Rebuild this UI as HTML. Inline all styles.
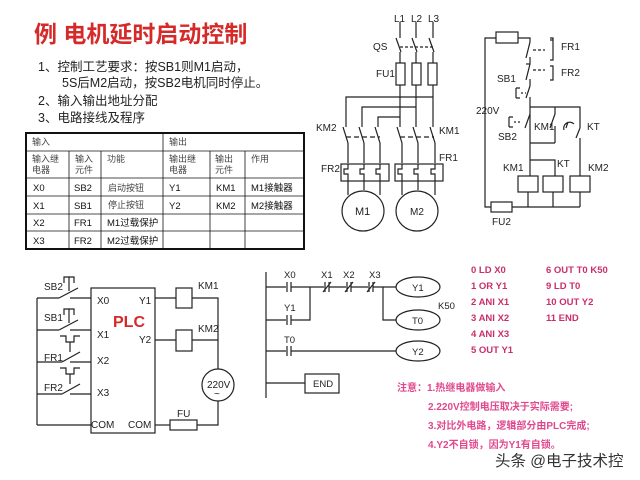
<!DOCTYPE html>
<html><head><meta charset="utf-8"><style>
body{margin:0;background:#fff}
svg{display:block}
text{font-family:"Liberation Sans","Noto Sans CJK SC",sans-serif}
</style></head><body>
<svg width="640" height="480" viewBox="0 0 640 480" xmlns="http://www.w3.org/2000/svg">
<rect width="640" height="480" fill="#fff"/>
<text x="34" y="42" font-size="23" font-weight="bold" fill="#d42a2a">例  电机延时启动控制</text>
<g font-size="12.5" fill="#222">
<text x="38" y="71">1、控制工艺要求：按SB1则M1启动，</text>
<text x="62" y="87">5S后M2启动，按SB2电机同时停止。</text>
<text x="38" y="105">2、输入输出地址分配</text>
<text x="38" y="122">3、电路接线及程序</text>
</g>
<g stroke="#111" fill="none">
<rect x="26" y="133" width="278" height="116" stroke-width="2"/>
<g stroke-width="0.8">
<line x1="26" y1="151" x2="304" y2="151"/><line x1="26" y1="178" x2="304" y2="178"/>
<line x1="26" y1="196" x2="304" y2="196"/><line x1="26" y1="214" x2="304" y2="214"/>
<line x1="26" y1="231" x2="304" y2="231"/>
<line x1="163" y1="133" x2="163" y2="249"/>
<line x1="69" y1="151" x2="69" y2="249"/><line x1="101" y1="151" x2="101" y2="249"/>
<line x1="210" y1="151" x2="210" y2="249"/><line x1="245" y1="151" x2="245" y2="249"/>
</g></g>
<g font-size="9" fill="#444">
<text x="32" y="145">输入</text><text x="169" y="145">输出</text>
<text x="32" y="162">输入继</text><text x="32" y="173">电器</text>
<text x="75" y="162">输入</text><text x="75" y="173">元件</text>
<text x="107" y="162">功能</text>
<text x="169" y="162">输出继</text><text x="169" y="173">电器</text>
<text x="215" y="162">输出</text><text x="215" y="173">元件</text>
<text x="251" y="162">作用</text>
<text x="108" y="191">启动按钮</text><text x="108" y="208">停止按钮</text>
</g>
<g font-size="9.5" fill="#111">
<text x="33" y="191">X0</text><text x="74" y="191">SB2</text><text x="169" y="191">Y1</text><text x="216" y="191">KM1</text><text x="251" y="191">M1接触器</text>
<text x="33" y="209">X1</text><text x="74" y="209">SB1</text><text x="169" y="209">Y2</text><text x="216" y="209">KM2</text><text x="251" y="209">M2接触器</text>
<text x="33" y="226">X2</text><text x="74" y="226">FR1</text><text x="107" y="226">M1过载保护</text>
<text x="33" y="244">X3</text><text x="74" y="244">FR2</text><text x="107" y="244">M2过载保护</text>
</g>
<g stroke="#222" stroke-width="1.2" fill="none">
<line x1="400" y1="22" x2="400" y2="38"/><line x1="416" y1="22" x2="416" y2="38"/><line x1="433" y1="22" x2="433" y2="38"/>
<line x1="396" y1="38" x2="401" y2="52"/><line x1="412" y1="38" x2="417" y2="52"/><line x1="429" y1="38" x2="434" y2="52"/>
<line x1="400" y1="47" x2="434" y2="47" stroke-dasharray="3,2"/>
<line x1="400" y1="52" x2="400" y2="127"/><line x1="416" y1="52" x2="416" y2="127"/><line x1="433" y1="52" x2="433" y2="127"/>
<rect x="396" y="63" width="9" height="22" fill="#fff"/><rect x="412" y="63" width="9" height="22" fill="#fff"/><rect x="428" y="63" width="9" height="22" fill="#fff"/>
<polyline points="346,127 346,97 433,97"/><polyline points="362,127 362,107 416,107"/><polyline points="378,127 378,117 400,117"/>
<line x1="343" y1="127" x2="348" y2="143"/><line x1="359" y1="127" x2="364" y2="143"/><line x1="375" y1="127" x2="380" y2="143"/>
<line x1="397" y1="127" x2="402" y2="143"/><line x1="413" y1="127" x2="418" y2="143"/><line x1="430" y1="127" x2="435" y2="143"/>
<line x1="346" y1="137" x2="380" y2="137" stroke-dasharray="5,3"/><line x1="400" y1="137" x2="434" y2="137" stroke-dasharray="5,3"/>
<line x1="348" y1="143" x2="348" y2="163"/><line x1="364" y1="143" x2="364" y2="163"/><line x1="380" y1="143" x2="380" y2="163"/>
<line x1="402" y1="143" x2="402" y2="163"/><line x1="418" y1="143" x2="418" y2="163"/><line x1="435" y1="143" x2="435" y2="163"/>
<rect x="341" y="164" width="48" height="17"/><rect x="395" y="164" width="48" height="17"/>
<path d="M348 164v5h-4v5h4v7M364 164v5h-4v5h4v7M380 164v5h-4v5h4v7M402 164v5h-4v5h4v7M418 164v5h-4v5h4v7M435 164v5h-4v5h4v7"/>
<line x1="348" y1="181" x2="348" y2="195"/><line x1="364" y1="181" x2="364" y2="190"/><line x1="380" y1="181" x2="380" y2="195"/>
<line x1="402" y1="181" x2="402" y2="195"/><line x1="418" y1="181" x2="418" y2="190"/><line x1="435" y1="181" x2="435" y2="195"/>
<ellipse cx="363" cy="211" rx="21" ry="20" fill="#fff"/><ellipse cx="417" cy="211" rx="21" ry="20" fill="#fff"/>
</g>
<g font-size="10" fill="#222">
<text x="394" y="22">L1</text><text x="411" y="22">L2</text><text x="428" y="22">L3</text>
<text x="373" y="50">QS</text><text x="376" y="77">FU1</text>
<text x="316" y="131">KM2</text><text x="439" y="134">KM1</text>
<text x="321" y="172">FR2</text><text x="439" y="161">FR1</text>
<text x="355" y="215" font-size="11">M1</text><text x="410" y="215">M2</text>
</g>
<g stroke="#222" stroke-width="1.2" fill="none">
<polyline points="496,38 485,38 485,207 518,207"/>
<rect x="496" y="32" width="22" height="11" fill="#fff"/>
<polyline points="518,38 530,38 530,42"/>
<line x1="530" y1="42" x2="526" y2="58"/><line x1="530" y1="57" x2="530" y2="64"/>
<line x1="526" y1="64" x2="530" y2="64"/><line x1="530" y1="64" x2="526" y2="80"/><line x1="530" y1="79" x2="530" y2="86"/>
<line x1="533" y1="50" x2="545" y2="50" stroke-dasharray="3,2"/><path d="M553 40v-2h-3v0M550 40h3v20h-3"/>
<line x1="533" y1="70" x2="545" y2="70" stroke-dasharray="3,2"/><path d="M550 66h3v14h-3"/>
<line x1="530" y1="86" x2="526" y2="98"/><path d="M516 88v10M516 88h4M516 98h4"/><line x1="521" y1="93" x2="526" y2="93" stroke-dasharray="2,2"/>
<line x1="530" y1="97" x2="530" y2="176"/>
<polyline points="530,107 580,107 580,128"/>
<line x1="555" y1="107" x2="555" y2="114"/><line x1="555" y1="114" x2="550" y2="128"/><line x1="555" y1="126" x2="555" y2="143"/>
<line x1="530" y1="114" x2="525" y2="128"/><path d="M509 117v10M509 117h4M509 127h4"/><line x1="514" y1="122" x2="522" y2="122" stroke-dasharray="2,2"/>
<line x1="530" y1="143" x2="555" y2="143"/>
<line x1="580" y1="128" x2="576" y2="138"/><line x1="580" y1="138" x2="580" y2="176"/>
<path d="M564 130a6 6 0 0 1 10 -6M566 128l2 -6"/>
<polyline points="530,160 555,160 555,176"/>
<rect x="518" y="176" width="20" height="16" fill="#fff"/><rect x="543" y="176" width="20" height="16" fill="#fff"/><rect x="570" y="176" width="20" height="16" fill="#fff"/>
<line x1="528" y1="192" x2="528" y2="207"/><line x1="553" y1="192" x2="553" y2="207"/><line x1="580" y1="192" x2="580" y2="207"/>
<line x1="518" y1="207" x2="580" y2="207"/>
<rect x="491" y="202" width="21" height="10" fill="#fff"/>
</g>
<g font-size="10" fill="#222">
<text x="561" y="50">FR1</text><text x="561" y="76">FR2</text><text x="497" y="82">SB1</text>
<text x="476" y="114">220V</text><text x="534" y="130">KM1</text><text x="587" y="130">KT</text><text x="498" y="140">SB2</text>
<text x="503" y="171">KM1</text><text x="557" y="167">KT</text><text x="588" y="171">KM2</text><text x="492" y="225">FU2</text>
</g>
<g stroke="#222" stroke-width="1.2" fill="none">
<rect x="91" y="288" width="64" height="145"/>
<line x1="37" y1="298" x2="37" y2="425"/>
<line x1="37" y1="298" x2="59" y2="298"/><line x1="59" y1="298" x2="78" y2="288"/><line x1="70" y1="298" x2="91" y2="298"/>
<path d="M64 283v-6h10v6M69 277v14" /> 
<line x1="37" y1="330" x2="59" y2="330"/><line x1="59" y1="330" x2="78" y2="320"/><line x1="70" y1="330" x2="91" y2="330"/>
<path d="M64 315v-6h10v6M69 309v14"/>
<line x1="37" y1="362" x2="62" y2="362"/><line x1="62" y1="362" x2="80" y2="352"/><line x1="70" y1="362" x2="91" y2="362"/>
<path d="M60 336h6v6h8v-6h6M70 342v10"/>
<line x1="37" y1="394" x2="62" y2="394"/><line x1="62" y1="394" x2="80" y2="384"/><line x1="70" y1="394" x2="91" y2="394"/>
<path d="M60 368h6v6h8v-6h6M70 374v10"/>
<line x1="37" y1="425" x2="91" y2="425"/>
<line x1="155" y1="298" x2="176" y2="298"/><rect x="176" y="288" width="16" height="20"/><polyline points="192,298 218,298 218,369"/>
<line x1="155" y1="340" x2="176" y2="340"/><rect x="176" y="330" width="16" height="21"/><line x1="192" y1="340" x2="218" y2="340"/>
<circle cx="218" cy="385" r="16"/>
<polyline points="218,401 218,425 197,425"/><rect x="170" y="420" width="27" height="10"/><line x1="155" y1="425" x2="170" y2="425"/>
</g>
<g font-size="10" fill="#222">
<text x="44" y="290">SB2</text><text x="44" y="321">SB1</text><text x="44" y="361">FR1</text><text x="44" y="391">FR2</text>
<text x="97" y="304">X0</text><text x="97" y="338">X1</text><text x="97" y="364">X2</text><text x="97" y="396">X3</text>
<text x="139" y="304">Y1</text><text x="139" y="343">Y2</text>
<text x="91" y="428">COM</text><text x="128" y="428">COM</text>
<text x="198" y="289">KM1</text><text x="198" y="332">KM2</text><text x="177" y="417">FU</text>
<text x="207" y="388">220V</text><text x="214" y="397">~</text>
</g>
<text x="113" y="327" font-size="16" font-weight="bold" fill="#d42a2a">PLC</text>
<g stroke="#222" stroke-width="1.2" fill="none">
<line x1="266" y1="272" x2="266" y2="398"/>
<line x1="266" y1="287" x2="286" y2="287"/><path d="M287 282v10M291 282v10"/>
<line x1="291" y1="287" x2="324" y2="287"/><path d="M325 282v10M329 282v10M323 292l8 -10"/>
<line x1="329" y1="287" x2="346" y2="287"/><path d="M347 282v10M351 282v10M345 292l8 -10"/>
<line x1="351" y1="287" x2="368" y2="287"/><path d="M369 282v10M373 282v10M367 292l8 -10"/>
<line x1="373" y1="287" x2="396" y2="287"/>
<ellipse cx="418" cy="287" rx="22" ry="10"/>
<line x1="266" y1="320" x2="286" y2="320"/><path d="M287 315v10M291 315v10"/><polyline points="291,320 310,320 310,287"/>
<polyline points="383,287 383,320 396,320"/><ellipse cx="418" cy="320" rx="22" ry="10"/>
<line x1="266" y1="351" x2="286" y2="351"/><path d="M287 346v10M291 346v10"/><line x1="291" y1="351" x2="396" y2="351"/>
<ellipse cx="418" cy="351" rx="22" ry="10"/>
<line x1="266" y1="383" x2="305" y2="383"/><rect x="305" y="374" width="34" height="19"/>
</g>
<g font-size="9.5" fill="#222">
<text x="284" y="278">X0</text><text x="321" y="278">X1</text><text x="343" y="278">X2</text><text x="369" y="278">X3</text>
<text x="284" y="311">Y1</text><text x="284" y="343">T0</text>
<text x="412" y="291">Y1</text><text x="412" y="324">T0</text><text x="412" y="355">Y2</text>
<text x="438" y="309">K50</text><text x="313" y="387">END</text>
</g>
<g font-size="9.5" font-weight="bold" fill="#c8306a">
<text x="471" y="273">0  LD   X0</text><text x="471" y="289">1  OR  Y1</text><text x="471" y="305">2  ANI  X1</text>
<text x="471" y="321">3  ANI  X2</text><text x="471" y="337">4  ANI  X3</text><text x="471" y="353">5  OUT Y1</text>
<text x="546" y="273">6   OUT T0  K50</text><text x="546" y="289">9    LD    T0</text><text x="546" y="305">10  OUT  Y2</text><text x="546" y="321">11   END</text>
</g>
<g font-size="10" font-weight="bold" fill="#e0488e">
<text x="397" y="391">注意：1.热继电器做输入</text>
<text x="428" y="410">2.220V控制电压取决于实际需要;</text>
<text x="428" y="429">3.对比外电路，逻辑部分由PLC完成;</text>
<text x="428" y="448">4.Y2不自锁，因为Y1有自锁。</text>
</g>
<text x="495" y="466" font-size="15.5" fill="#333">头条 @电子技术控</text>
</svg>
</body></html>
